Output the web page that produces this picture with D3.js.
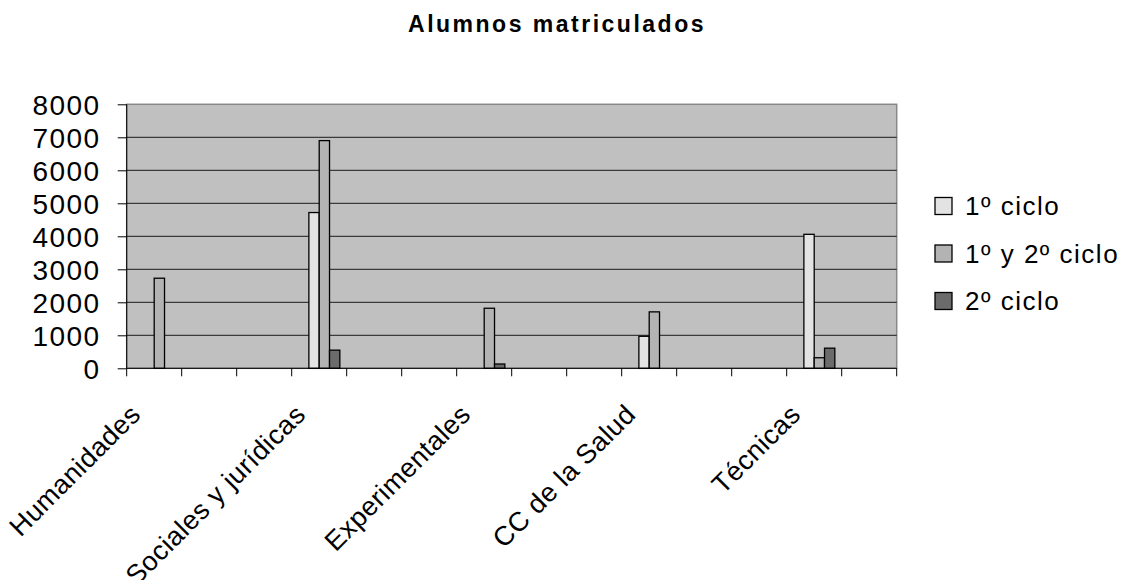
<!DOCTYPE html>
<html lang="en">
<head>
	<meta charset="utf-8">
	<title>Alumnos matriculados</title>
	<script src="https://d3js.org/d3.v7.min.js"></script>
	<style type="text/css">
		body {
			margin: 0;
			background-color: #fff;
		}
		svg {
			display: block;
			font-family: "Liberation Sans", Arial, sans-serif;
		}
	</style>
</head>
<body>
	<script type="text/javascript">

		// categories (Excel only prints every third label)
		var categories = ["Humanidades", "", "", "Sociales y jurídicas", "", "", "Experimentales", "", "",
			"CC de la Salud", "", "", "Técnicas", ""];

		var seriesNames = ["1º ciclo", "1º y 2º ciclo", "2º ciclo"];

		var ciclo1   = [0, 0, 0, 4720, 0, 0, 0,    0, 0, 970,  0, 0, 4060, 0];
		var ciclo12  = [2730, 0, 0, 6900, 0, 0, 1820, 0, 0, 1710, 0, 0, 320,  0];
		var ciclo2   = [0, 0, 0, 550,  0, 0, 130,  0, 0, 0,    0, 0, 610,  0];

		var yTicks = [0, 1000, 2000, 3000, 4000, 5000, 6000, 7000, 8000];

		var seriesValues = [ciclo1, ciclo12, ciclo2];
		var colors = ["#e3e3e3", "#b3b3b3", "#6b6b6b"];

		//Width and height
		var w = 1127;
		var h = 580;
		var plotLeft = 126.7, plotRight = 896.7, plotTop = 104.3, plotBottom = 368.3;

		var svg = d3.select("body")
					.append("svg")
					.attr("width", w)
					.attr("height", h);

		//Scales
		var x0 = d3.scaleBand()
					.domain(d3.range(categories.length))
					.range([plotLeft, plotRight]);

		// 4 slots per category, the first one stays empty
		var x1 = d3.scaleBand()
					.domain(d3.range(4))
					.range([0, x0.bandwidth()])
					.paddingOuter(0.665);

		var y = d3.scaleLinear()
					.domain([0, 8000])
					.range([plotBottom, plotTop]);

		//Plot area
		svg.append("rect")
			.attr("x", plotLeft)
			.attr("y", plotTop)
			.attr("width", plotRight - plotLeft)
			.attr("height", plotBottom - plotTop)
			.style("fill", "#c0c0c0")
			.style("stroke", "#888")
			.style("stroke-width", 1.5);

		//Gridlines
		svg.selectAll("line.grid")
			.data(yTicks.slice(1, -1))
			.enter()
			.append("line")
			.attr("class", "grid")
			.attr("x1", plotLeft)
			.attr("x2", plotRight)
			.attr("y1", function(d) { return y(d); })
			.attr("y2", function(d) { return y(d); })
			.style("stroke", "#1a1a1a")
			.style("stroke-width", 1);

		//Bars
		seriesValues.forEach(function(vals, s) {
			svg.append("g")
				.selectAll("rect")
				.data(vals.map(function(v, i) { return { i: i, v: v }; }).filter(function(d) { return d.v > 0; }))
				.enter()
				.append("rect")
				.attr("x", function(d) { return x0(d.i) + x1(s + 1); })
				.attr("y", function(d) { return y(d.v); })
				.attr("width", x1.bandwidth())
				.attr("height", function(d) { return plotBottom - y(d.v); })
				.style("fill", colors[s])
				.style("stroke", "#000")
				.style("stroke-width", 1.3);
		});

		//Y axis
		var yAxis = d3.axisLeft(y)
					.tickValues(yTicks)
					.tickFormat(d3.format("d"))
					.tickSize(9)
					.tickPadding(17);

		var yg = svg.append("g")
			.attr("transform", "translate(" + plotLeft + ",0)")
			.call(yAxis);
		yg.select(".domain").attr("d", "M0," + plotTop + "V" + plotBottom);
		yg.selectAll("text")
			.style("font-size", "28px")
			.style("letter-spacing", "1.5px")
			.style("font-family", "'Liberation Sans', Arial, sans-serif")
			.attr("fill", "#000")
			.attr("dy", "0.36em");

		//X axis: ticks on category boundaries
		var xAxis = svg.append("g");
		xAxis.append("line")
			.attr("x1", plotLeft).attr("x2", plotRight)
			.attr("y1", plotBottom).attr("y2", plotBottom)
			.style("stroke", "#000");
		xAxis.selectAll("line.tick")
			.data(d3.range(categories.length + 1))
			.enter()
			.append("line")
			.attr("class", "tick")
			.attr("x1", function(d) { return plotLeft + d * x0.step(); })
			.attr("x2", function(d) { return plotLeft + d * x0.step(); })
			.attr("y1", plotBottom)
			.attr("y2", plotBottom + 8)
			.style("stroke", "#000");

		xAxis.selectAll("text")
			.data(categories)
			.enter()
			.append("text")
			.attr("transform", function(d, i) {
				var cx = x0(i) + x0.bandwidth() / 2 - 12;
				return "translate(" + cx + ",416) rotate(-45)";
			})
			.attr("text-anchor", "end")
			.style("font-size", "27px")
			.style("letter-spacing", "0.5px")
			.text(function(d) { return d; });

		//Title
		svg.append("text")
			.attr("x", 557)
			.attr("y", 32)
			.attr("text-anchor", "middle")
			.style("font-size", "23px")
			.style("font-weight", "bold")
			.style("letter-spacing", "2.5px")
			.text("Alumnos matriculados");

		//Legend
		var legend = svg.selectAll("g.legend")
			.data(seriesNames)
			.enter()
			.append("g")
			.attr("class", "legend")
			.attr("transform", function(d, i) { return "translate(935," + (206 + i * 47.5) + ")"; });

		legend.append("rect")
			.attr("x", 0)
			.attr("y", -8.5)
			.attr("width", 17)
			.attr("height", 17)
			.style("fill", function(d, i) { return colors[i]; })
			.style("stroke", "#000")
			.style("stroke-width", 1.3);

		legend.append("text")
			.attr("x", 30)
			.attr("y", 0)
			.attr("dy", "0.36em")
			.style("font-size", "26px")
			.style("letter-spacing", "1.5px")
			.text(function(d) { return d; });

	</script>
</body>
</html>
